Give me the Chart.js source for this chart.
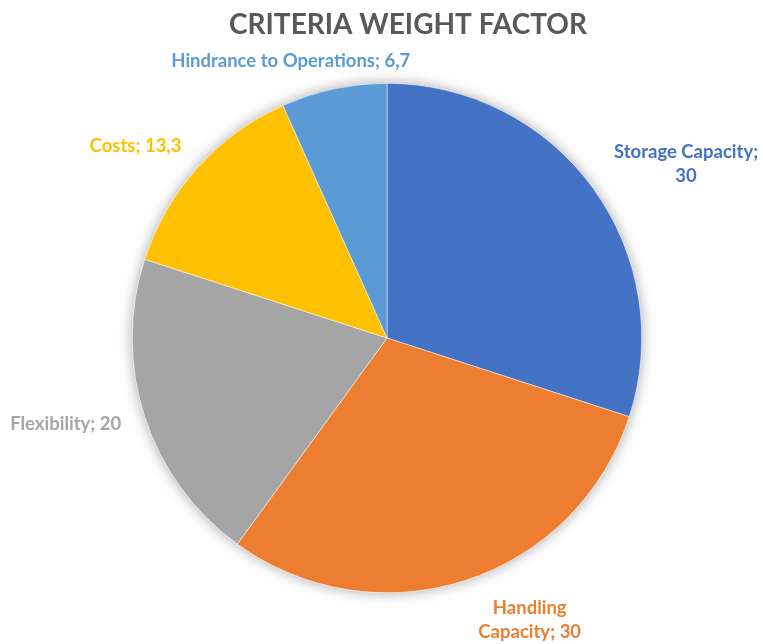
<!DOCTYPE html>
<html>
<head>
<meta charset="utf-8">
<script src="https://cdn.jsdelivr.net/npm/chart.js@4"></script>
<style>
  html, body { margin: 0; padding: 0; background: #fff; }
  #wrap { width: 763px; height: 644px; position: relative; }
</style>
</head>
<body>
<div id="wrap"><canvas id="pieChart"></canvas></div>
<script>
// chart data
const chartTitle = 'CRITERIA WEIGHT FACTOR';
const categories = ['Storage Capacity', 'Handling Capacity', 'Flexibility', 'Costs', 'Hindrance to Operations'];
const weights = [30, 30, 20, 13.3, 6.7];
const sliceColors = ['#4472C4', '#ED7D31', '#A5A5A5', '#FFC000', '#5B9BD5'];

// label text lines and nudges from the outer mid point of each slice
const labelLines = [
    ['Storage Capacity;', '30'],
    ['Handling', 'Capacity; 30'],
    ['Flexibility; 20'],
    ['Costs; 13,3'],
    ['Hindrance to Operations; 6,7']
];
const labelNudge = [[93, -24], [64, 40], [-79, 7], [-62, -22], [-43, -28]];

const labelFont = 'bold 18.5px Lato';

// soft shadow under the whole pie
const pieShadow = {
    id: 'pieShadow',
    beforeDatasetsDraw(chart) {
        const arc = chart.getDatasetMeta(0).data[0];
        if (!arc) return;
        const ctx = chart.ctx;
        ctx.save();
        ctx.shadowColor = 'rgba(0,0,0,0.35)';
        ctx.shadowBlur = 14;
        ctx.fillStyle = '#fff';
        ctx.beginPath();
        ctx.arc(arc.x, arc.y, arc.outerRadius, 0, Math.PI * 2);
        ctx.fill();
        ctx.restore();
    }
};

// title and outside labels
const pieLabels = {
    id: 'pieLabels',
    afterDatasetsDraw(chart) {
        const ctx = chart.ctx;
        const meta = chart.getDatasetMeta(0);
        ctx.save();
        ctx.textAlign = 'center';
        ctx.textBaseline = 'middle';

        ctx.font = 'bold 28px Lato';
        ctx.fillStyle = '#595959';
        ctx.fillText(chartTitle, meta.data[0].x + 21, 25);

        ctx.font = labelFont;
        meta.data.forEach((arc, i) => {
            const mid = (arc.startAngle + arc.endAngle) / 2;
            const cx = arc.x + Math.cos(mid) * arc.outerRadius + labelNudge[i][0];
            const cy = arc.y + Math.sin(mid) * arc.outerRadius + labelNudge[i][1];
            const lines = labelLines[i];
            const lh = 24;
            ctx.fillStyle = sliceColors[i];
            lines.forEach((t, k) => {
                ctx.fillText(t, cx, cy + (k - (lines.length - 1) / 2) * lh);
            });
        });
        ctx.restore();
    }
};

new Chart(document.getElementById('pieChart'), {
    type: 'pie',
    data: {
        labels: categories,
        datasets: [{
            data: weights,
            backgroundColor: sliceColors,
            borderColor: '#ffffff',
            borderWidth: 0.5
        }]
    },
    options: {
        responsive: true,
        maintainAspectRatio: false,
        animation: false,
        layout: {
            padding: { top: 83, bottom: 51, left: 132, right: 121 }
        },
        plugins: {
            legend: { display: false },
            tooltip: { enabled: false },
            title: { display: false }
        }
    },
    plugins: [pieShadow, pieLabels]
});
</script>
</body>
</html>
